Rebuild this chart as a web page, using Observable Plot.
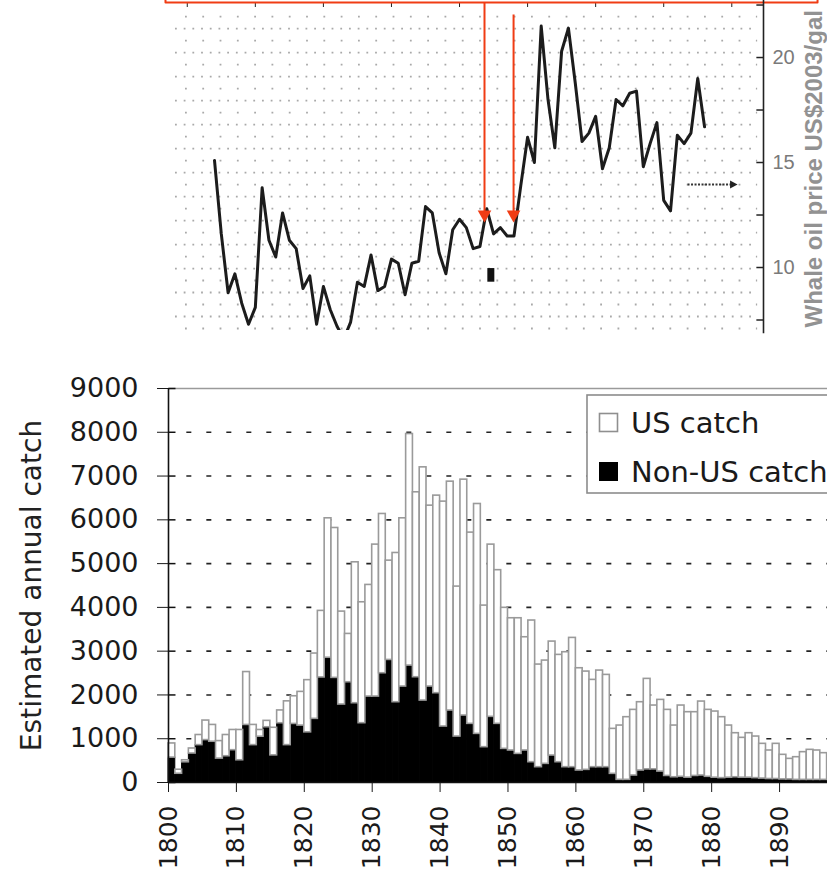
<!DOCTYPE html>
<html>
<head>
<meta charset="utf-8">
<script src="https://cdn.jsdelivr.net/npm/d3@7"></script>
<script src="https://cdn.jsdelivr.net/npm/@observablehq/plot@0.6"></script>
<style>
html, body { margin: 0; padding: 0; background: #fff; }
#chart { width: 827px; height: 881px; overflow: hidden; position: relative; background: #fff; }
#chart svg { display: block; }
</style>
</head>
<body>
<div id="chart"></div>
<script>
// ---------------- DATA: upper panel (whale oil price) ----------------
const priceStartYear = 1804;
const whaleOilPrice = [15.1, 11.6, 8.8, 9.7, 8.3, 7.3, 8.1, 13.8, 11.3, 10.5,
  12.6, 11.3, 10.9, 9.0, 9.6, 7.3, 9.1, 8.0, 7.2, 6.6,
  7.4, 9.3, 9.1, 10.6, 8.9, 9.1, 10.4, 10.2, 8.7, 10.2,
  10.3, 12.9, 12.6, 10.7, 9.7, 11.8, 12.3, 11.9, 10.9, 11.0,
  12.8, 11.6, 11.9, 11.5, 11.5, 13.9, 16.2, 15.0, 21.5, 18.0,
  15.7, 20.3, 21.4, 18.8, 16.0, 16.4, 17.2, 14.7, 15.7, 18.0,
  17.7, 18.3, 18.4, 14.8, 15.9, 16.9, 13.2, 12.7, 16.3, 15.9,
  16.4, 19.0, 16.7];
const priceTicks = [10, 15, 20];
const priceMinorTicks = [7.5, 10, 12.5, 15, 17.5, 20, 22.5];
const priceDecadeMarks = [1800, 1810, 1820, 1830, 1840, 1850, 1860, 1870, 1880];
const priceAxisTitle = "Whale oil price US$2003/gal";
// annotations of the upper panel
const redArrowYears = [1843.67, 1847.94];
const redArrowTop = [22.62, 22.05];
const redArrowTip = [12.14, 12.14];
const redFrameYears = [1796.8, 1892.6];
const redFramePrice = 22.62;
const blackMarkYear = [1844.6];
const blackMarkRange = [9.3, 9.95];
const dottedArrowYears = [1873.5, 1880.85];
const dottedArrowPrice = 13.95;

// ---------------- DATA: lower panel (annual catch) ----------------
const catchStartYear = 1800;
const usCatch = [323, 92, 46, 115, 231, 446, 384, 400, 485, 462,
  692, 1208, 461, 154, 146, 630, 292, 1000, 632, 770,
  1192, 1492, 1520, 3185, 3424, 2123, 1104, 3219, 2762, 2550,
  3471, 3638, 2268, 3409, 3843, 5289, 4224, 5327, 4132, 4513,
  5137, 5228, 3425, 5388, 4368, 5251, 3234, 3934, 3510, 3221,
  3021, 3098, 2587, 3236, 2344, 2359, 2603, 2451, 2626, 2953,
  2336, 2245, 1994, 2207, 2108, 1027, 1240, 1431, 1499, 1560,
  2067, 1458, 1637, 1509, 1181, 1628, 1496, 1456, 1689, 1529,
  1511, 1392, 1191, 1006, 910, 1016, 950, 793, 651, 803,
  562, 470, 518, 633, 686, 671, 610];
const nonUsCatch = [569, 200, 462, 662, 854, 969, 931, 546, 600, 738,
  508, 1315, 854, 1046, 1262, 620, 1354, 854, 1338, 1300,
  1146, 1454, 2400, 2850, 2390, 1781, 2290, 1811, 1355, 1963,
  1963, 2496, 2800, 1834, 2192, 2671, 2405, 1872, 2192, 2040,
  1279, 1644, 1050, 1530, 1340, 1111, 807, 1500, 1340, 769,
  731, 654, 731, 464, 350, 426, 616, 464, 350, 350,
  274, 289, 350, 350, 350, 198, 61, 61, 160, 274,
  300, 300, 250, 150, 120, 130, 110, 150, 160, 130,
  110, 100, 110, 120, 110, 110, 100, 90, 80, 80,
  70, 70, 60, 60, 60, 60, 60];
const catchTicks = [0, 1000, 2000, 3000, 4000, 5000, 6000, 7000, 8000, 9000];
const catchGridLevels = [1000, 2000, 3000, 4000, 5000, 6000, 7000, 8000];
const yearTicks = [1800, 1810, 1820, 1830, 1840, 1850, 1860, 1870, 1880, 1890];
const seriesNames = ["US catch", "Non-US catch"];
const catchAxisTitle = "Estimated annual catch";

// ---------------- derived tables ----------------
const priceRows = whaleOilPrice.map((p, i) => ({year: priceStartYear + i, price: p}));
const redArrows = redArrowYears.map((y, i) => ({year: y, top: redArrowTop[i], tip: redArrowTip[i]}));
const redFrame = [
  {x: redFrameYears[0], y: redFramePrice + 0.2},
  {x: redFrameYears[0], y: redFramePrice},
  {x: redFrameYears[1], y: redFramePrice},
  {x: redFrameYears[1], y: redFramePrice + 0.2}
];
const blackMark = blackMarkYear.map(y => ({year: y, lo: blackMarkRange[0], hi: blackMarkRange[1]}));
const dottedArrow = [{x1: dottedArrowYears[0], x2: dottedArrowYears[1], y: dottedArrowPrice}];

const nonUsRows = nonUsCatch.map((n, i) => ({year: catchStartYear + i, next: catchStartYear + i + 1, lo: 0, hi: n}));
const usRows = usCatch.map((u, i) => ({year: catchStartYear + i, next: catchStartYear + i + 1, lo: nonUsCatch[i], hi: nonUsCatch[i] + u}));

// ---------------- style helpers ----------------
const W = 827;
const RED = "#f03c14";
const priceX = [1772.56, 1884.66];
const gridStep = 12 / 21;
const gridDense = d3.range(0, 26, 2).map(k => 21.38 - k * gridStep);
const gridSparse = d3.range(-1, 26, 2).map(k => 21.38 - k * gridStep);
const triDown = {draw(ctx) { ctx.moveTo(0, 0); ctx.lineTo(-6.8, -12); ctx.lineTo(6.8, -12); ctx.closePath(); }};
const triRight = {draw(ctx) { ctx.moveTo(0, 0); ctx.lineTo(-7.5, -4); ctx.lineTo(-7.5, 4); ctx.closePath(); }};

// ---------------- upper panel ----------------
const topPlot = Plot.plot({
  width: W, height: 340,
  marginLeft: 0, marginRight: 64, marginTop: 6, marginBottom: 10,
  x: {domain: priceX, axis: "top", ticks: priceDecadeMarks, tickSize: 5, tickFormat: () => "", label: null},
  y: {domain: [7.0, 22.43], axis: "right", ticks: priceTicks, tickSize: 0, tickPadding: 9, tickFormat: d => String(d), label: null},
  style: {background: "white", overflow: "visible", fontFamily: "Liberation Sans, Arial, sans-serif", fontSize: "20px", color: "#222"},
  marks: [
    Plot.ruleY(gridDense, {x1: 1798.27, x2: 1883.8, stroke: "#a9a9a9", strokeWidth: 1.8, strokeDasharray: "1.8,6.9"}),
    Plot.ruleY(gridSparse, {x1: 1799.74, x2: 1883.8, stroke: "#a9a9a9", strokeWidth: 1.8, strokeDasharray: "1.8,15.5"}),
    Plot.line(priceRows, {x: "year", y: "price", stroke: "#1c1c1c", strokeWidth: 3, clip: true}),
    Plot.line(redFrame, {x: "x", y: "y", stroke: RED, strokeWidth: 2}),
    Plot.link(redArrows, {x1: "year", x2: "year", y1: "top", y2: d => d.tip + 0.35, stroke: RED, strokeWidth: 2}),
    Plot.dot(redArrows, {x: "year", y: "tip", symbol: triDown, fill: RED, stroke: "none"}),
    Plot.ruleX(blackMark, {x: "year", y1: "lo", y2: "hi", stroke: "#111", strokeWidth: 7}),
    Plot.link(dottedArrow, {x1: "x1", x2: d => d.x2 - 0.8, y1: "y", y2: "y", stroke: "#333", strokeWidth: 2, strokeDasharray: "2,1.5"}),
    Plot.dot(dottedArrow, {x: "x2", y: "y", symbol: triRight, fill: "#222", stroke: "none"}),
    Plot.ruleX([priceX[1]], {y1: 6.85, y2: 22.8, stroke: "#222", strokeWidth: 1.6}),
    Plot.link(priceMinorTicks, {x1: priceX[1] - 1.05, x2: priceX[1], y1: d => d, y2: d => d, stroke: "#222", strokeWidth: 1.5}),
    Plot.text([priceAxisTitle], {frameAnchor: "bottom-right", rotate: -90, textAnchor: "start", lineAnchor: "bottom", dx: 58, dy: -3, fontSize: 24, fontWeight: "bold", fill: "#929292"})
  ]
});
topPlot.querySelectorAll('[aria-label^="y-axis"] text').forEach(t => { t.style.fill = "#7a7a7a"; t.style.fontSize = "20px"; });

// ---------------- lower panel ----------------
const xEnd = 1897.06;
const bottomPlot = Plot.plot({
  width: W, height: 541,
  marginLeft: 168, marginRight: 0, marginTop: 48, marginBottom: 99,
  x: {domain: [catchStartYear, xEnd], ticks: yearTicks, tickSize: 10, tickPadding: 13, tickRotate: -90, tickFormat: d => String(d), label: null},
  y: {domain: [0, 9000], ticks: catchTicks, tickSize: 11, tickPadding: 19, tickFormat: d => String(d), label: null},
  style: {background: "white", overflow: "visible", fontFamily: "DejaVu Sans, sans-serif", fontSize: "27px", color: "#1a1a1a"},
  marks: [
    Plot.ruleY(catchGridLevels, {x1: 1802.7, x2: xEnd, stroke: "#222", strokeWidth: 1.6, strokeDasharray: "5,15"}),
    Plot.ruleY([9000], {x1: catchStartYear, x2: xEnd, stroke: "#9a9a9a", strokeWidth: 1.6}),
    Plot.rect(nonUsRows, {x1: "year", x2: "next", y1: "lo", y2: "hi", fill: "black", stroke: "black", strokeWidth: 1}),
    Plot.rect(usRows, {x1: "year", x2: "next", y1: "lo", y2: "hi", fill: "white", stroke: "#9a9a9a", strokeWidth: 1.6}),
    Plot.ruleY([0], {x1: catchStartYear, x2: xEnd, stroke: "#111", strokeWidth: 1.6}),
    Plot.ruleX([catchStartYear], {y1: 0, y2: 9000, stroke: "#111", strokeWidth: 1.6}),
    Plot.link(catchTicks, {x1: catchStartYear, x2: catchStartYear + 1.03, y1: d => d, y2: d => d, stroke: "#111", strokeWidth: 1.5}),
    Plot.text([catchAxisTitle], {frameAnchor: "left", rotate: -90, textAnchor: "middle", dx: -136, fontSize: 28, fill: "#222"})
  ]
});
bottomPlot.querySelectorAll('[aria-label^="x-axis"] text').forEach(t => { t.style.fontSize = "25px"; });
bottomPlot.querySelectorAll('[aria-label^="y-axis"] text').forEach(t => { t.style.fontSize = "27px"; });

// legend (inside the plot area, top-right)
const lg = d3.select(bottomPlot).append("g")
  .attr("font-family", "DejaVu Sans, sans-serif").attr("font-size", 29)
  .attr("fill", "#1a1a1a").attr("text-anchor", "start");
lg.append("rect").attr("x", 587).attr("y", 55).attr("width", 270).attr("height", 98)
  .attr("fill", "white").attr("stroke", "#8c8c8c").attr("stroke-width", 1.6);
lg.append("rect").attr("x", 599.5).attr("y", 73.5).attr("width", 18).attr("height", 18)
  .attr("fill", "white").attr("stroke", "#8f8f8f").attr("stroke-width", 1.6);
lg.append("rect").attr("x", 599.5).attr("y", 122.5).attr("width", 18).attr("height", 18)
  .attr("fill", "black").attr("stroke", "black");
lg.append("text").attr("x", 631).attr("y", 93).attr("text-anchor", "start").text(seriesNames[0]);
lg.append("text").attr("x", 631).attr("y", 142).attr("text-anchor", "start").text(seriesNames[1]);

const root = document.getElementById("chart");
root.appendChild(topPlot);
root.appendChild(bottomPlot);
</script>
</body>
</html>
